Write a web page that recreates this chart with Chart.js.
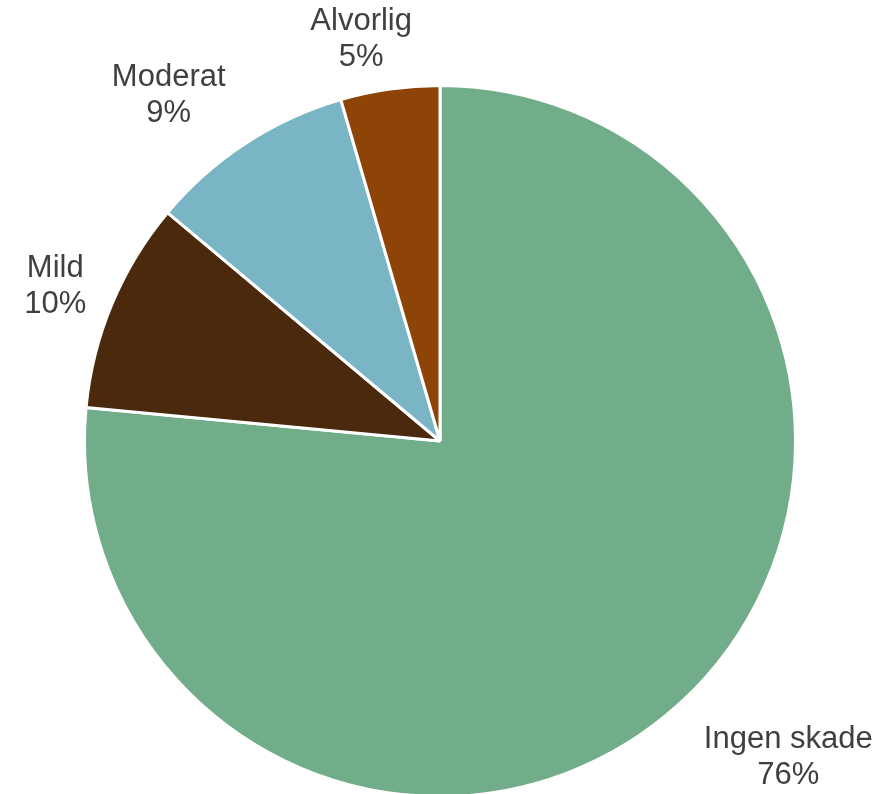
<!DOCTYPE html>
<html>
<head>
<meta charset="utf-8">
<script src="https://cdn.jsdelivr.net/npm/chart.js@4"></script>
<style>
  html, body { margin: 0; padding: 0; background: #fff; overflow: hidden; }
  #wrap { width: 877px; height: 800px; position: relative; }
</style>
</head>
<body>
<div id="wrap"><canvas id="pie"></canvas></div>
<script>
// slice data, clockwise from 12 o'clock
const categories = ['Ingen skade', 'Mild', 'Moderat', 'Alvorlig'];
const shares = [76.5, 9.6, 9.4, 4.5];
const shareLabels = ['76%', '10%', '9%', '5%'];
const sliceColors = ['#72AD8A', '#4A290D', '#7AB5C5', '#8E4406'];

// draws "name / pct" outside each slice, anchored on the slice's mid angle
const outsideLabels = {
  id: 'outsideLabels',
  afterDatasetsDraw(chart, args, opts) {
    const ctx = chart.ctx;
    const arcs = chart.getDatasetMeta(0).data;
    ctx.save();
    ctx.font = '31px "Liberation Sans", Arial, sans-serif';
    ctx.fillStyle = '#404040';
    ctx.textAlign = 'center';
    ctx.textBaseline = 'alphabetic';
    arcs.forEach((arc, i) => {
      const mid = (arc.startAngle + arc.endAngle) / 2;
      const d = arc.outerRadius + opts.gap;
      const nudge = opts.nudge[i];
      const x = arc.x + Math.cos(mid) * d + nudge[0];
      const y = arc.y + Math.sin(mid) * d + nudge[1];
      ctx.fillText(categories[i], x, y);
      ctx.fillText(shareLabels[i], x, y + opts.lineHeight);
    });
    ctx.restore();
  }
};

const chart = new Chart(document.getElementById('pie').getContext('2d'), {
  type: 'pie',
  data: {
    labels: categories,
    datasets: [{
      data: shares,
      backgroundColor: sliceColors,
      borderColor: '#ffffff',
      borderWidth: 3,
      hoverOffset: 0
    }]
  },
  options: {
    responsive: true,
    maintainAspectRatio: false,
    animation: false,
    layout: { padding: { top: 84, bottom: 2, left: 83, right: 80 } },
    plugins: {
      legend: { display: false },
      tooltip: { enabled: false },
      outsideLabels: {
        gap: 55,
        lineHeight: 36,
        nudge: [[72, 3], [-6, -6], [-47, -11], [-21, -5]]
      }
    }
  },
  plugins: [outsideLabels]
});
</script>
</body>
</html>
